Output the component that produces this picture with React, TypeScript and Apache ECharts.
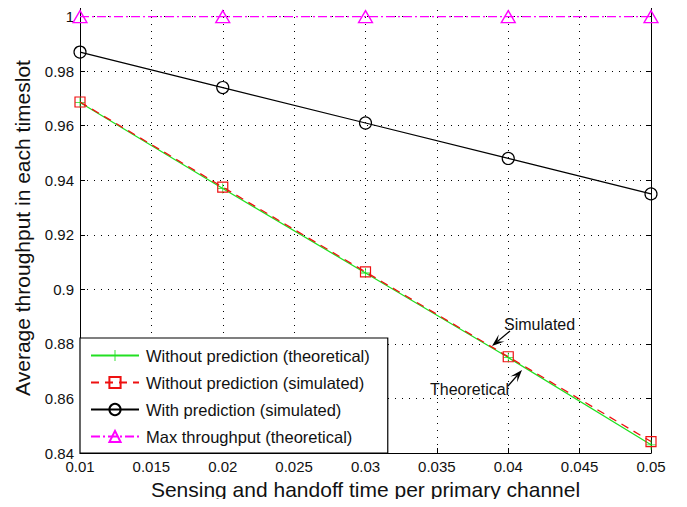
import React, { useEffect, useRef } from "react";
import * as echarts from "echarts";

const xValues = [0.01, 0.02, 0.03, 0.04, 0.05];
const theoreticalNoPred = [0.9685, 0.937, 0.906, 0.875, 0.843];
const simulatedNoPred = [0.9687, 0.9375, 0.9064, 0.8753, 0.8442];
const simulatedPred = [0.987, 0.974, 0.961, 0.948, 0.935];
const maxThroughput = [1, 1, 1, 1, 1];
const seriesNames = [
  "Without prediction (theoretical)",
  "Without prediction (simulated)",
  "With prediction (simulated)",
  "Max throughput (theoretical)",
];

const FONT = "'Liberation Sans', Arial, Helvetica, sans-serif";

function arrow(tail: [number, number], tip: [number, number]) {
  const dx = tip[0] - tail[0];
  const dy = tip[1] - tail[1];
  const len = Math.hypot(dx, dy);
  const ux = dx / len;
  const uy = dy / len;
  const px = -uy;
  const py = ux;
  const hl = 11;
  const hw = 4.5;
  const bx = tip[0] - hl * ux;
  const by = tip[1] - hl * uy;
  const nx = tip[0] - 7 * ux;
  const ny = tip[1] - 7 * uy;
  return [
    {
      type: "line",
      shape: { x1: tail[0], y1: tail[1], x2: nx, y2: ny },
      style: { stroke: "#000", lineWidth: 1.2 },
      z: 100,
    },
    {
      type: "polygon",
      shape: {
        points: [
          tip,
          [bx + hw * px - 1.5 * ux, by + hw * py - 1.5 * uy],
          [nx, ny],
          [bx - hw * px - 1.5 * ux, by - hw * py - 1.5 * uy],
        ],
      },
      style: { fill: "#000" },
      z: 100,
    },
  ];
}

export default function App() {
  const ref = useRef<HTMLDivElement>(null);
  useEffect(() => {
    if (!ref.current) return;
    const chart = echarts.init(ref.current, undefined, { renderer: "svg" });
    const pair = (ys: number[]) => xValues.map((x, i) => [x, ys[i]]);
    const fmt = (v: number) => String(+v.toFixed(4));
    const axisText = { color: "#111", fontFamily: FONT, fontSize: 15 };
    const plus = "path://M4.6,0h0.8v4.6h4.6v0.8h-4.6v4.6h-0.8v-4.6h-4.6v-0.8h4.6z";

    chart.setOption({
      animation: false,
      backgroundColor: "#fff",
      grid: { left: 80, right: 36, top: 3, bottom: 54, containLabel: false },
      xAxis: [
        {
          type: "value",
          min: 0.01,
          max: 0.05,
          interval: 0.005,
          name: "Sensing and handoff time per primary channel",
          nameLocation: "middle",
          nameGap: 26,
          nameTextStyle: { color: "#111", fontFamily: FONT, fontSize: 21 },
          axisLine: { show: true, lineStyle: { color: "#000", width: 1 } },
          axisTick: { show: true, inside: true, length: 5, lineStyle: { color: "#000" } },
          axisLabel: { ...axisText, margin: 6, formatter: fmt },
          splitLine: { show: true, lineStyle: { color: "#000", type: [1, 6], width: 1 } },
        },
        {
          type: "value",
          position: "top",
          min: 0.01,
          max: 0.05,
          interval: 0.005,
          axisLine: { show: true, onZero: false, lineStyle: { color: "#000", width: 1 } },
          axisTick: { show: true, inside: true, length: 5, lineStyle: { color: "#000" } },
          axisLabel: { show: false },
          splitLine: { show: false },
        },
      ],
      yAxis: [
        {
          type: "value",
          min: 0.84,
          max: 1.005,
          interval: 0.02,
          name: "Average throughput in each timeslot",
          nameLocation: "middle",
          nameGap: 47,
          nameTextStyle: { color: "#111", fontFamily: FONT, fontSize: 21 },
          axisLine: { show: true, lineStyle: { color: "#000", width: 1 } },
          axisTick: { show: true, inside: true, length: 5, lineStyle: { color: "#000" } },
          axisLabel: {
            ...axisText,
            margin: 6,
            showMaxLabel: false,
            formatter: (v: number) => (Math.abs(v - 1.005) < 1e-6 ? "" : fmt(v)),
          },
          splitLine: { show: true, lineStyle: { color: "#000", type: [1, 6], width: 1 } },
        },
        {
          type: "value",
          position: "right",
          min: 0.84,
          max: 1.005,
          interval: 0.02,
          axisLine: { show: true, onZero: false, lineStyle: { color: "#000", width: 1 } },
          axisTick: { show: true, inside: true, length: 5, lineStyle: { color: "#000" } },
          axisLabel: { show: false },
          splitLine: { show: false },
        },
      ],
      legend: {
        orient: "vertical",
        left: 80,
        top: 338,
        padding: [9, 18, 8, 10],
        itemGap: 10,
        itemWidth: 48,
        itemHeight: 14,
        backgroundColor: "#fff",
        borderColor: "#000",
        borderWidth: 1.2,
        borderRadius: 0,
        textStyle: { color: "#111", fontFamily: FONT, fontSize: 16.5, padding: [0, 0, 0, 2] },
        data: seriesNames,
        z: 20,
      },
      series: [
        {
          name: seriesNames[0],
          type: "line",
          data: pair(theoreticalNoPred),
          symbol: plus,
          symbolSize: 10,
          itemStyle: { color: "#22e022" },
          lineStyle: { color: "#22e022", width: 1.3 },
          z: 3,
        },
        {
          name: seriesNames[1],
          type: "line",
          data: pair(simulatedNoPred),
          symbol: "rect",
          symbolSize: 10,
          itemStyle: { color: "transparent", borderColor: "#ee1111", borderWidth: 1.2 },
          lineStyle: { color: "#ee1111", width: 1.3, type: [8, 6] },
          z: 4,
        },
        {
          name: seriesNames[2],
          type: "line",
          data: pair(simulatedPred),
          symbol: "circle",
          symbolSize: 12,
          itemStyle: { color: "transparent", borderColor: "#000", borderWidth: 1.2 },
          lineStyle: { color: "#000", width: 1.2 },
          z: 5,
        },
        {
          name: seriesNames[3],
          type: "line",
          data: pair(maxThroughput),
          symbol: "triangle",
          symbolSize: [14, 12],
          itemStyle: { color: "transparent", borderColor: "#ff00ff", borderWidth: 1.3 },
          lineStyle: { color: "#ff00ff", width: 1.3, type: [9, 3, 2, 3] },
          z: 6,
        },
      ],
      graphic: [
        {
          type: "text",
          left: 504,
          top: 316,
          style: { text: "Simulated", fill: "#111", font: `16px ${FONT}` },
          z: 100,
        },
        {
          type: "text",
          left: 430,
          top: 381,
          style: { text: "Theoretical", fill: "#111", font: `16px ${FONT}` },
          z: 100,
        },
        ...arrow([510, 331], [492, 346]),
        ...arrow([508, 386], [522, 370]),
      ],
    });
    return () => chart.dispose();
  }, []);
  return <div ref={ref} style={{ width: 687, height: 507, margin: -8 }} />;
}
